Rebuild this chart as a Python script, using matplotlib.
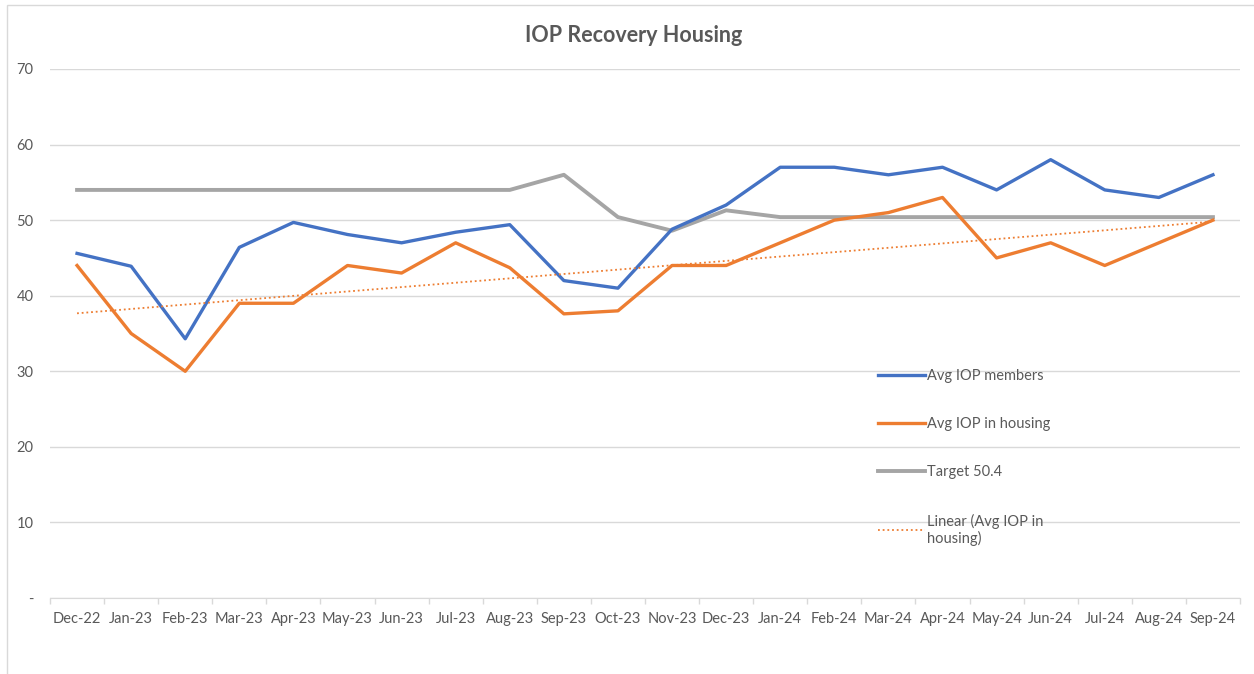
import matplotlib
matplotlib.use("Agg")
import matplotlib.pyplot as plt
import numpy as np
from matplotlib.patches import Rectangle

months = ["Dec-22", "Jan-23", "Feb-23", "Mar-23", "Apr-23", "May-23", "Jun-23", "Jul-23",
          "Aug-23", "Sep-23", "Oct-23", "Nov-23", "Dec-23", "Jan-24", "Feb-24", "Mar-24",
          "Apr-24", "May-24", "Jun-24", "Jul-24", "Aug-24", "Sep-24"]
members = [45.6, 43.9, 34.3, 46.4, 49.7, 48.1, 47.0, 48.4, 49.4, 42.0, 41.0, 48.8,
           52.0, 57.0, 57.0, 56.0, 57.0, 54.0, 58.0, 54.0, 53.0, 56.0]
housing = [44.0, 35.0, 30.0, 39.0, 39.0, 44.0, 43.0, 47.0, 43.7, 37.6, 38.0, 44.0,
           44.0, 47.0, 50.0, 51.0, 53.0, 45.0, 47.0, 44.0, 47.0, 50.0]
target = [54.0, 54.0, 54.0, 54.0, 54.0, 54.0, 54.0, 54.0, 54.0, 56.0, 50.4, 48.6,
          51.3, 50.4, 50.4, 50.4, 50.4, 50.4, 50.4, 50.4, 50.4, 50.4]
yticks = [0, 10, 20, 30, 40, 50, 60, 70]
ytick_labels = ["-", "10", "20", "30", "40", "50", "60", "70"]

plt.rcParams['font.family'] = ['Lato', 'DejaVu Sans']

fig = plt.figure(figsize=(12.54, 6.74), dpi=100)
fig.patches.append(Rectangle((7/1254, -0.01), 1.01, 1 - 5/674 + 0.01, transform=fig.transFigure,
                             fill=False, edgecolor="#d9d9d9", linewidth=1))
ax = fig.add_axes([50/1254, 1 - 598/674, (1240 - 50)/1254, (598 - 69)/674])

x = np.arange(len(months))
ax.plot(x, members, color="#4472C4", linewidth=2.4, label="Avg IOP members", zorder=4)
ax.plot(x, housing, color="#ED7D31", linewidth=2.4, label="Avg IOP in housing", zorder=4)
ax.plot(x, target, color="#A5A5A5", linewidth=2.8, label="Target 50.4", zorder=3)
coef = np.polyfit(x, housing, 1)
ax.plot(x, np.polyval(coef, x), color="#ED7D31", linewidth=1.3, linestyle=(0, (1, 1.6)),
        label="Linear (Avg IOP in\nhousing)", zorder=5)

ax.set_xlim(-0.5, len(months) - 0.5)
ax.set_ylim(0, 70)
ax.set_yticks(yticks)
ax.set_yticklabels(ytick_labels)
ax.set_xticks(x)
ax.set_xticklabels(months)
ax.set_xticks(np.arange(-0.5, len(months), 1), minor=True)
ax.tick_params(axis='x', which='major', length=0, pad=10, labelsize=10.5, colors="#595959")
ax.tick_params(axis='x', which='minor', length=4, color="#d9d9d9", width=1)
ax.tick_params(axis='y', length=0, pad=12, labelsize=10.5, colors="#595959")
ax.grid(axis='y', color="#d9d9d9", linewidth=1)
ax.set_axisbelow(True)
for s in ["top", "right", "left"]:
    ax.spines[s].set_visible(False)
ax.spines["bottom"].set_color("#d9d9d9")

fig.text(634/1254, 1 - 35/674, "IOP Recovery Housing", ha="center", va="center",
         fontsize=15.5, fontweight="bold", color="#595959")

leg = ax.legend(loc="upper left", bbox_to_anchor=((872 - 50)/1190, (598 - 363)/529),
                frameon=False, fontsize=10.5, labelspacing=2.35, handlelength=3.2,
                handletextpad=0.2, borderaxespad=0)
for t in leg.get_texts():
    t.set_color("#595959")

fig.savefig("out.png", dpi=100)
